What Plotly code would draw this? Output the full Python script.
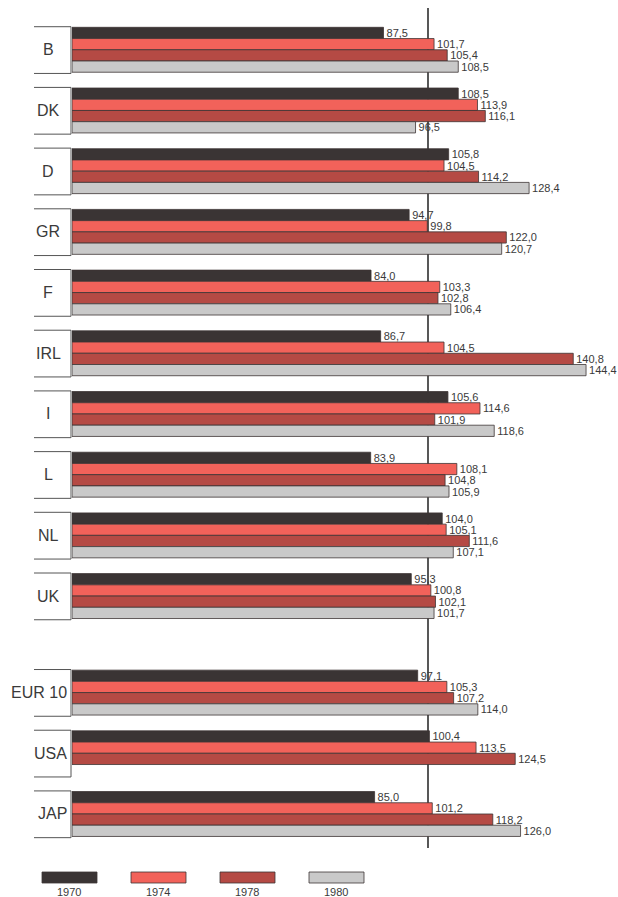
import plotly.graph_objects as go

# Index values by country (1970, 1974, 1978, 1980)
countries = ["B", "DK", "D", "GR", "F", "IRL", "I", "L", "NL", "UK", "EUR 10", "USA", "JAP"]
years = ["1970", "1974", "1978", "1980"]
v1970 = [87.5, 108.5, 105.8, 94.7, 84.0, 86.7, 105.6, 83.9, 104.0, 95.3, 97.1, 100.4, 85.0]
v1974 = [101.7, 113.9, 104.5, 99.8, 103.3, 104.5, 114.6, 108.1, 105.1, 100.8, 105.3, 113.5, 101.2]
v1978 = [105.4, 116.1, 114.2, 122.0, 102.8, 140.8, 101.9, 104.8, 111.6, 102.1, 107.2, 124.5, 118.2]
v1980 = [108.5, 96.5, 128.4, 120.7, 106.4, 144.4, 118.6, 105.9, 107.1, 101.7, 114.0, None, 126.0]
series = [v1970, v1974, v1978, v1980]
colors = ["#3a3434", "#f2625a", "#b54a44", "#c9c9c9"]
reference_value = 100

# figure geometry (pixels)
W, H = 618, 897
ML, MR, MT, MB = 72, 0, 0, 49
PW, PH = W - ML - MR, H - MT - MB
N_MEMBERS = 10          # member states; the comparison block follows a wider gap
BLOCK_GAP = 0.59
positions = [i if i < N_MEMBERS else i + BLOCK_GAP for i in range(len(countries))]
Y_TOP = -0.82
UNIT = 60.7             # pixels per group step
Y_BOTTOM = Y_TOP + PH / UNIT
X_MAX = PW / 3.56
BARGAP = 0.26
FONT = "Liberation Sans, Arial, sans-serif"


def paper_x(px):
    return (px - ML) / PW


def paper_y(py):
    return (MT + PH - py) / PH


def data_y(py):
    return Y_TOP + (py - MT) / UNIT


fig = go.Figure()
for name, vals, col in zip(years, series, colors):
    fig.add_trace(go.Bar(
        y=positions, x=vals, orientation="h", name=name,
        marker=dict(color=col, line=dict(color="#3d3535", width=0.8)),
        texttemplate="%{x:.1f}", textposition="outside",
        textfont=dict(family=FONT, size=11, color="#3a3a3a"),
        constraintext="none", cliponaxis=False,
        hoverinfo="skip",
    ))

shapes = []
# vertical reference line at index 100
shapes.append(dict(type="line", xref="x", yref="y", x0=reference_value, x1=reference_value,
                   y0=data_y(8), y1=Y_BOTTOM, line=dict(color="#2e2e2e", width=1.6), layer="below"))

# brackets framing each country label
half = (1 - BARGAP) / 2
annotations = []
for i, (cat, pos) in enumerate(zip(countries, positions)):
    y0, y1 = pos - half - 0.01, pos + half + 0.02
    for yy in (y0, y1):
        shapes.append(dict(type="line", xref="paper", yref="y", x0=paper_x(34), x1=paper_x(71),
                           y0=yy, y1=yy, line=dict(color="#555555", width=1)))
    shapes.append(dict(type="line", xref="paper", yref="y", x0=paper_x(71), x1=paper_x(71),
                       y0=y0, y1=y1, line=dict(color="#555555", width=1)))
    if i < N_MEMBERS:
        annotations.append(dict(x=paper_x(48), y=pos, xref="paper", yref="y", text=cat,
                                showarrow=False, xanchor="center", yanchor="middle",
                                font=dict(family=FONT, size=16, color="#3a3a3a")))
    else:
        annotations.append(dict(x=paper_x(69), y=pos, xref="paper", yref="y", text=cat,
                                showarrow=False, xanchor="right", yanchor="middle",
                                font=dict(family=FONT, size=16, color="#3a3a3a")))

# legend: wide swatches with the year below
for k, (name, col) in enumerate(zip(years, colors)):
    left = 42 + k * 89
    shapes.append(dict(type="rect", xref="paper", yref="paper",
                       x0=paper_x(left), x1=paper_x(left + 55),
                       y0=paper_y(883), y1=paper_y(872),
                       fillcolor=col, line=dict(color="#3d3535", width=0.8)))
    annotations.append(dict(x=paper_x(left + 27), y=paper_y(885), xref="paper", yref="paper",
                            text=name, showarrow=False, xanchor="center", yanchor="top",
                            borderpad=0,
                            font=dict(family=FONT, size=11, color="#3a3a3a")))

fig.update_layout(
    width=W, height=H,
    margin=dict(l=ML, r=MR, t=MT, b=MB),
    barmode="group", bargap=BARGAP, bargroupgap=0,
    separators=", ",
    paper_bgcolor="white", plot_bgcolor="white",
    showlegend=False,
    xaxis=dict(range=[0, X_MAX], visible=False, fixedrange=True),
    yaxis=dict(range=[Y_BOTTOM, Y_TOP], visible=False, fixedrange=True),
    shapes=shapes, annotations=annotations,
)

fig.write_html("out.html")
